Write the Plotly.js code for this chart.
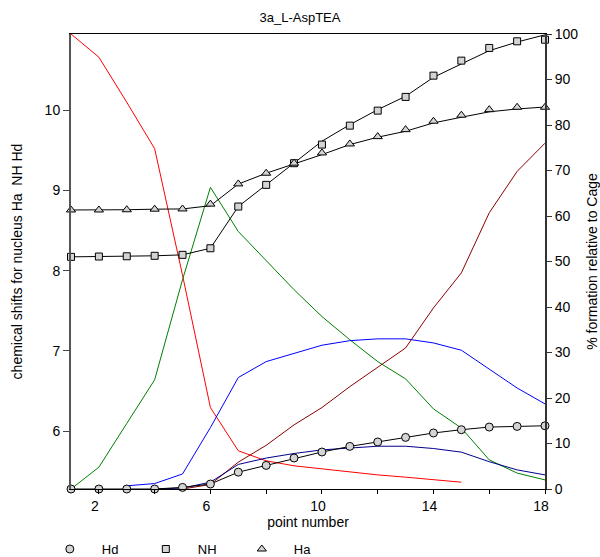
<!DOCTYPE html>
<html>
<head>
<meta charset="utf-8">
<script src="https://cdn.plot.ly/plotly-3.0.1.min.js"></script>
<style>
  html, body { margin: 0; padding: 0; background: #fff; }
  #chart { width: 600px; height: 557px; }
</style>
</head>
<body>
<div id="chart"></div>
<script>
// Titration point numbers
const points = [1, 2, 3, 4, 5, 6, 7, 8, 9, 10, 11, 12, 13, 14, 15, 16, 17, 18];

// Chemical shifts (ppm), left axis
const hd = [5.28, 5.28, 5.28, 5.28, 5.30, 5.342, 5.49, 5.574, 5.666, 5.741, 5.811, 5.866, 5.923, 5.978, 6.019, 6.052, 6.06, 6.068];
const nh = [8.173, 8.177, 8.18, 8.186, 8.198, 8.28, 8.80, 9.07, 9.34, 9.572, 9.808, 9.995, 10.166, 10.431, 10.618, 10.776, 10.859, 10.879];
const ha = [8.757, 8.757, 8.76, 8.767, 8.77, 8.83, 9.082, 9.215, 9.34, 9.468, 9.58, 9.671, 9.758, 9.863, 9.938, 10.007, 10.037, 10.037];

// Fitted curves through the NH and Ha shifts
const nhFit = [8.173, 8.177, 8.18, 8.186, 8.198, 8.28, 8.80, 9.07, 9.34, 9.614, 9.82, 10.007, 10.174, 10.41, 10.577, 10.742, 10.85, 10.94];
const haFit = [8.757, 8.757, 8.76, 8.767, 8.77, 8.81, 9.08, 9.215, 9.33, 9.447, 9.572, 9.664, 9.738, 9.842, 9.913, 9.98, 10.016, 10.04];

// Species distribution (% formation relative to Cage), right axis
const redPts = [1, 2, 3, 4, 5, 6, 7, 8, 9, 10, 11, 12, 13, 14, 15];
const redPct = [100, 94.9, 85, 74.8, 47, 17.9, 8.4, 6.2, 5.1, 4.4, 3.7, 3.1, 2.6, 2.0, 1.5];

const greenPct = [0, 4.8, 14.4, 24, 46, 66.3, 56.6, 50.2, 43.8, 37.9, 32.8, 28, 24.2, 17.6, 13.4, 6.4, 3.5, 2.0];

const bluePts = [3, 4, 5, 6, 7, 8, 9, 10, 11, 12, 13, 14, 15, 16, 17, 18];
const bluePct = [0.7, 1.2, 3.3, 13.5, 24.5, 28, 29.8, 31.6, 32.6, 33, 33, 32.1, 30.5, 26.3, 22.2, 18.7];

const maroonPts = [5, 6, 7, 8, 9, 10, 11, 12, 13, 14, 15, 16, 17, 18];
const maroonPct = [0, 1, 5.9, 9.6, 14.1, 17.9, 22.5, 26.8, 31, 39.8, 47.5, 60.7, 69.8, 76];

const navyPts = [4, 5, 6, 7, 8, 9, 10, 11, 12, 13, 14, 15, 16, 17, 18];
const navyPct = [0, 0.2, 1.5, 5.4, 6.8, 7.8, 8.6, 9.0, 9.4, 9.4, 8.9, 8.1, 6.0, 4.2, 3.1];

// Tick labels
const xTickVals = [2, 4, 6, 8, 10, 12, 14, 16, 18];
const xTickText = ['2', '', '6', '', '10', '', '14', '', '18'];
const shiftTicks = [6, 7, 8, 9, 10];

const FONT = '"Liberation Sans", Arial, Helvetica, sans-serif';
const markerFill = '#d4d4d4';

function pctLine(x, y, color) {
  return {
    x: x, y: y, yaxis: 'y', type: 'scatter', mode: 'lines',
    line: { color: color, width: 1 }, showlegend: false, hoverinfo: 'skip'
  };
}
function shiftLine(y) {
  return {
    x: points, y: y, yaxis: 'y2', type: 'scatter', mode: 'lines',
    line: { color: '#000', width: 1 }, showlegend: false, hoverinfo: 'skip'
  };
}
function shiftMarkers(y, name, symbol, size) {
  return {
    x: points, y: y, yaxis: 'y2', type: 'scatter', mode: 'markers', name: name,
    cliponaxis: false,
    marker: { symbol: symbol, size: size, color: markerFill, line: { color: '#000', width: 1 } }
  };
}

const traces = [
  pctLine(redPts, redPct, '#ff0000'),
  pctLine(points, greenPct, '#008000'),
  pctLine(bluePts, bluePct, '#0000ff'),
  pctLine(maroonPts, maroonPct, '#8b0000'),
  pctLine(navyPts, navyPct, '#00008b'),
  shiftLine(hd),
  shiftLine(nhFit),
  shiftLine(haFit),
  shiftMarkers(hd, 'Hd', 'circle', 8),
  shiftMarkers(nh, 'NH', 'square', 7),
  shiftMarkers(ha, 'Ha', 'triangle-up', 8)
];

const layout = {
  width: 600,
  height: 557,
  margin: { l: 71, r: 55, t: 34, b: 68, autoexpand: false },
  paper_bgcolor: '#fff',
  plot_bgcolor: '#fff',
  font: { family: FONT, size: 14, color: '#000' },
  title: {
    text: '3a_L-AspTEA',
    font: { family: FONT, size: 13, color: '#000' },
    x: 0.5, xref: 'container', xanchor: 'center',
    y: 0.9695, yref: 'container', yanchor: 'middle'
  },
  showlegend: true,
  legend: {
    orientation: 'h',
    x: -0.07, xanchor: 'left',
    y: -0.132, yanchor: 'middle',
    font: { family: FONT, size: 13, color: '#000' },
    itemwidth: 54,
    entrywidth: 27,
    bgcolor: 'rgba(0,0,0,0)'
  },
  xaxis: {
    range: [1, 18],
    tickmode: 'array', tickvals: xTickVals, ticktext: xTickText,
    ticks: 'outside', ticklen: 4, tickcolor: '#000', tickwidth: 1,
    ticklabelshift: -4,
    showline: true, linecolor: '#000', linewidth: 1, mirror: true,
    showgrid: false, zeroline: false,
    tickfont: { family: FONT, size: 14, color: '#000' },
    title: { text: 'point number', font: { family: FONT, size: 14, color: '#000' }, standoff: 3 }
  },
  yaxis: {
    range: [0, 100],
    side: 'right',
    dtick: 10, tick0: 0,
    ticks: 'outside', ticklen: 5, tickcolor: '#333', tickwidth: 1,
    showline: true, linecolor: '#333', linewidth: 2,
    showgrid: false, zeroline: false,
    tickfont: { family: FONT, size: 14, color: '#000' },
    title: { text: '% formation relative to Cage', font: { family: FONT, size: 14, color: '#000' }, standoff: 10 }
  },
  yaxis2: {
    range: [5.28, 10.95],
    overlaying: 'y',
    side: 'left',
    tickmode: 'array', tickvals: shiftTicks,
    ticks: 'outside', ticklen: 6, tickcolor: '#444', tickwidth: 1,
    showline: true, linecolor: '#555', linewidth: 2,
    showgrid: false, zeroline: false,
    tickfont: { family: FONT, size: 14, color: '#000' },
    title: { text: 'chemical shifts for nucleus Ha  NH Hd', font: { family: FONT, size: 14, color: '#000' }, standoff: 19 }
  }
};

Plotly.newPlot('chart', traces, layout, { staticPlot: true, displayModeBar: false });
</script>
</body>
</html>
